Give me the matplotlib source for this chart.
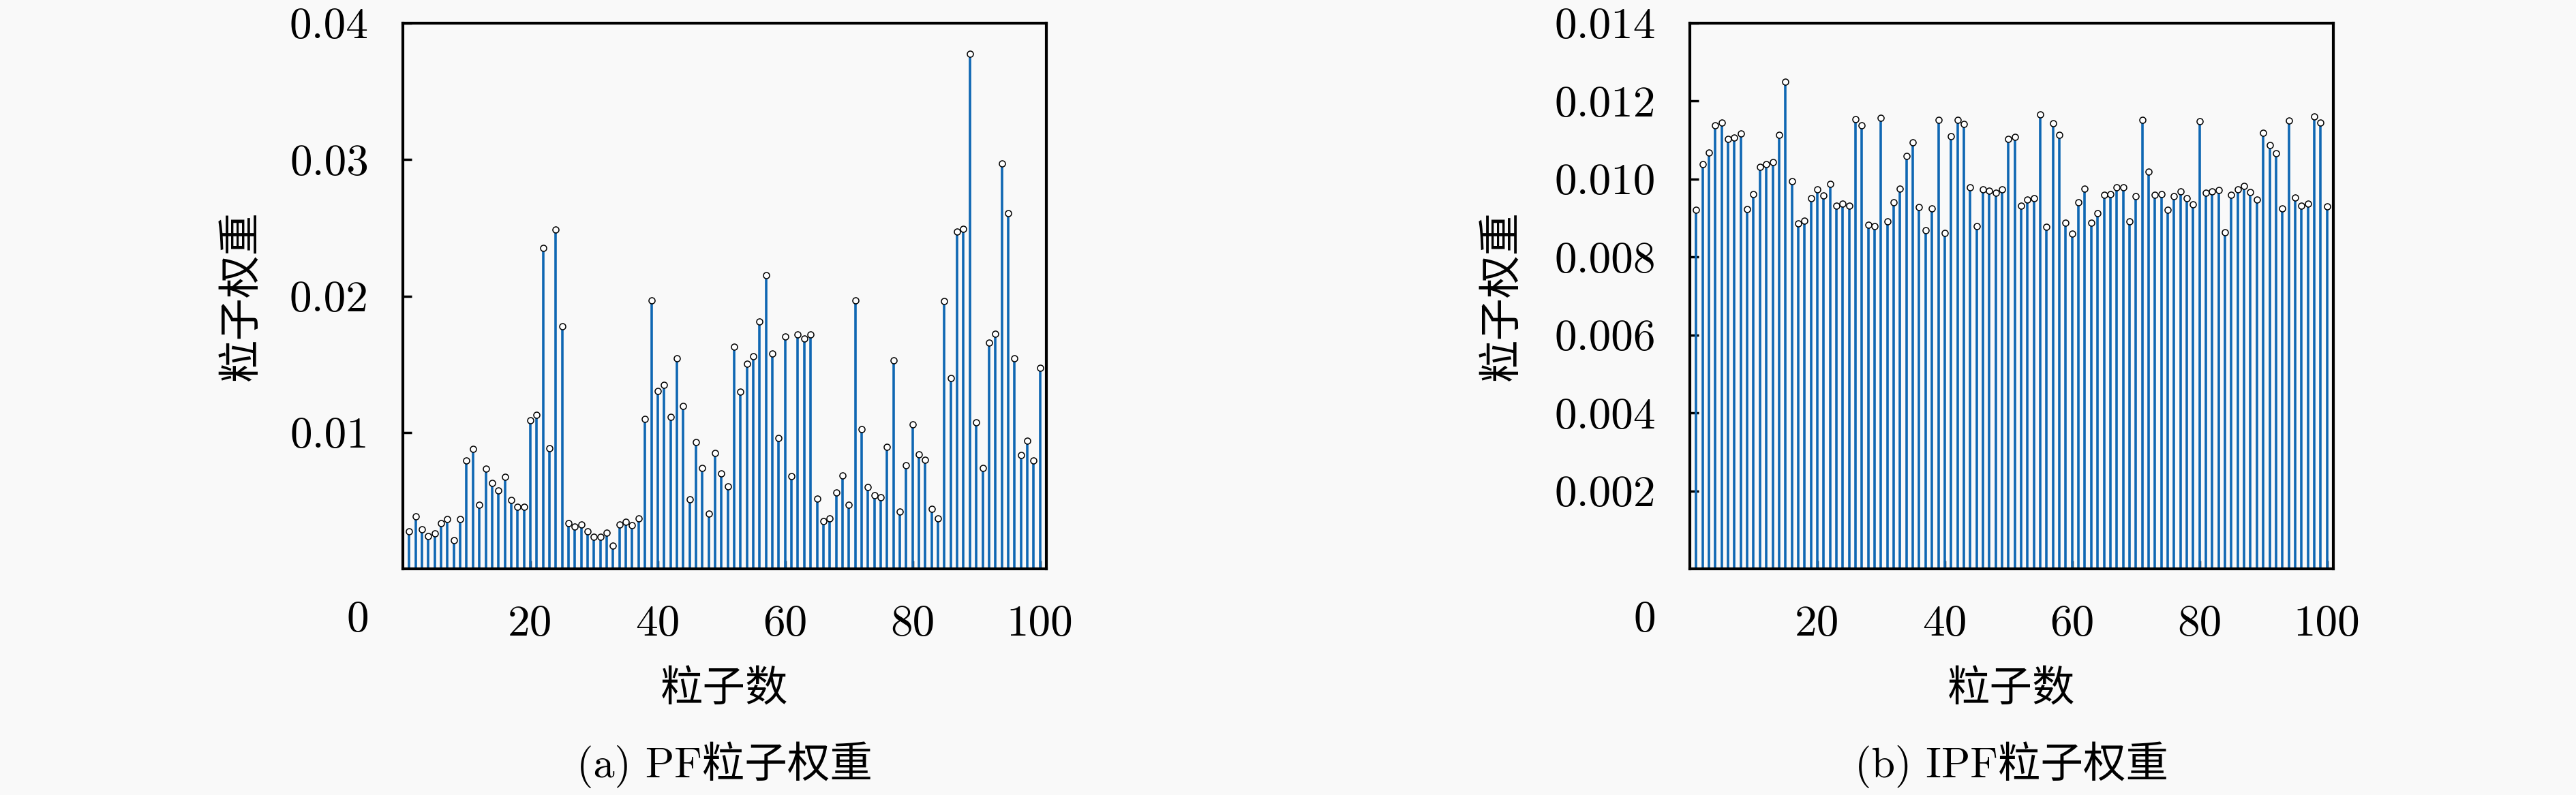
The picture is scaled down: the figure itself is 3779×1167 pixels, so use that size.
import matplotlib
matplotlib.use('Agg')
import matplotlib.pyplot as plt
import numpy as np

# 粒子序号
particles = np.arange(1, 101)

# PF 粒子权重
pf_weights = [
    0.00275, 0.00383, 0.00292, 0.00242, 0.00262, 0.00337, 0.00363, 0.00212, 0.00363, 0.00793,
    0.00877, 0.00470, 0.00733, 0.00630, 0.00575, 0.00672, 0.00502, 0.00455, 0.00455, 0.01087,
    0.01130, 0.02352, 0.00883, 0.02487, 0.01780, 0.00333, 0.00308, 0.00325, 0.00275, 0.00237,
    0.00237, 0.00263, 0.00170, 0.00325, 0.00347, 0.00320, 0.00370, 0.01098, 0.01967, 0.01303,
    0.01347, 0.01115, 0.01545, 0.01195, 0.00508, 0.00928, 0.00738, 0.00403, 0.00847, 0.00700,
    0.00602, 0.01628, 0.01300, 0.01503, 0.01560, 0.01815, 0.02152, 0.01580, 0.00957, 0.01703,
    0.00677, 0.01718, 0.01690, 0.01720, 0.00512, 0.00350, 0.00370, 0.00558, 0.00683, 0.00467,
    0.01968, 0.01023, 0.00598, 0.00537, 0.00525, 0.00895, 0.01530, 0.00417, 0.00757, 0.01058,
    0.00840, 0.00798, 0.00437, 0.00372, 0.01963, 0.01398, 0.02470, 0.02490, 0.03776, 0.01075,
    0.00737, 0.01658, 0.01725, 0.02972, 0.02606, 0.01542, 0.00833, 0.00937, 0.00792, 0.01475,
]

# IPF 粒子权重
ipf_weights = [
    0.00921, 0.01039, 0.01068, 0.01138, 0.01145, 0.01102, 0.01107, 0.01116, 0.00923, 0.00962,
    0.01032, 0.01039, 0.01044, 0.01113, 0.01249, 0.00994, 0.00886, 0.00893, 0.00950, 0.00974,
    0.00957, 0.00988, 0.00932, 0.00937, 0.00931, 0.01153, 0.01137, 0.00882, 0.00879, 0.01157,
    0.00892, 0.00941, 0.00976, 0.01059, 0.01094, 0.00928, 0.00869, 0.00924, 0.01151, 0.00861,
    0.01109, 0.01152, 0.01141, 0.00978, 0.00879, 0.00974, 0.00970, 0.00964, 0.00973, 0.01103,
    0.01108, 0.00931, 0.00947, 0.00950, 0.01166, 0.00878, 0.01143, 0.01113, 0.00888, 0.00860,
    0.00941, 0.00975, 0.00888, 0.00912, 0.00960, 0.00962, 0.00978, 0.00978, 0.00891, 0.00956,
    0.01151, 0.01019, 0.00960, 0.00962, 0.00921, 0.00956, 0.00969, 0.00950, 0.00935, 0.01148,
    0.00964, 0.00968, 0.00972, 0.00863, 0.00959, 0.00974, 0.00983, 0.00967, 0.00948, 0.01118,
    0.01088, 0.01067, 0.00924, 0.01150, 0.00953, 0.00932, 0.00937, 0.01161, 0.01144, 0.00930,
]

x_ticks = [20, 40, 60, 80, 100]
pf_yticks = [0.01, 0.02, 0.03, 0.04]
pf_ylabels = ['0.01', '0.02', '0.03', '0.04']
ipf_yticks = [0.002, 0.004, 0.006, 0.008, 0.010, 0.012, 0.014]
ipf_ylabels = ['0.002', '0.004', '0.006', '0.008', '0.010', '0.012', '0.014']

num_font = 'cmr10'
cjk = ['Noto Sans CJK SC', 'DejaVu Sans']
mixed = ['cmr10', 'Noto Sans CJK SC']
bg = '#f9f9f9'
stem_color = '#0f67b3'

W, H = 3780, 1167
fig = plt.figure(figsize=(W / 100, H / 100), dpi=100, facecolor=bg)


def draw_panel(left_px, weights, ymax, yticks, ylabels, ylabel_x, caption):
    ax = fig.add_axes([left_px / W, (H - 835) / H, 944 / W, 801 / H], facecolor=bg)
    markerline, stemlines, baseline = ax.stem(particles, weights, linefmt='-', markerfmt='o', basefmt='k-')
    stemlines.set_color(stem_color)
    stemlines.set_linewidth(2.6)
    baseline.set_linewidth(2)
    markerline.set_markerfacecolor('white')
    markerline.set_markeredgecolor('black')
    markerline.set_markersize(6.5)
    markerline.set_markeredgewidth(1.1)
    markerline.set_zorder(4)

    ax.set_xlim(0, 101)
    ax.set_ylim(0, ymax)
    ax.set_xticks(x_ticks, [str(t) for t in x_ticks], fontfamily=num_font, fontsize=47)
    ax.set_yticks(yticks, ylabels, fontfamily=num_font, fontsize=47)
    ax.tick_params(direction='in', length=9, width=2.5, pad=36)
    ax.tick_params(axis='x', pad=38)
    for s in ax.spines.values():
        s.set_linewidth(3)

    # 原点处的 "0"
    fig.text((left_px - 66) / W, 1 - 911 / H, '0', fontfamily=num_font, fontsize=47,
             ha='center', va='center')
    cx = (left_px + 472) / W
    fig.text(ylabel_x / W, 1 - 434 / H, '粒子权重', fontfamily=cjk, fontsize=45,
             rotation=90, ha='center', va='center')
    fig.text(cx, 1 - 1012 / H, '粒子数', fontfamily=cjk, fontsize=45, ha='center', va='center')
    fig.text(cx, 1 - 1123 / H, caption, fontfamily=mixed, fontsize=45, ha='center', va='center')
    return ax


draw_panel(591, pf_weights, 0.04, pf_yticks, pf_ylabels, 354, '(a) PF粒子权重')
draw_panel(2479, ipf_weights, 0.014, ipf_yticks, ipf_ylabels, 2203, '(b) IPF粒子权重')

fig.savefig('out.png', dpi=100, facecolor=bg)
